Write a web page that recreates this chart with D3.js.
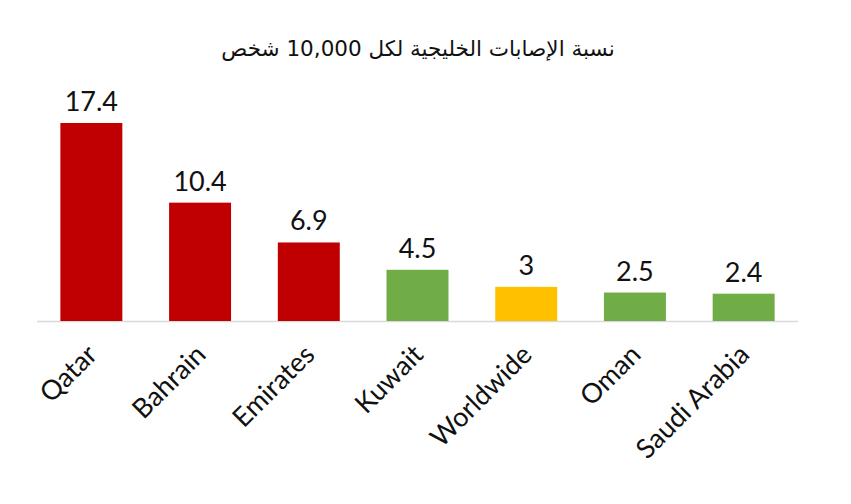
<!DOCTYPE html>
<html><head><meta charset="utf-8">
<script src="https://cdn.jsdelivr.net/npm/d3@7"></script>
<style>body{margin:0;background:#fff}svg{display:block}</style>
</head><body>
<svg id="c" width="851" height="504"></svg>
<script>
const categories = ["Qatar","Bahrain","Emirates","Kuwait","Worldwide","Oman","Saudi Arabia"];
const values = [17.4, 10.4, 6.9, 4.5, 3, 2.5, 2.4];
const valueLabels = ["17.4","10.4","6.9","4.5","3","2.5","2.4"];
const barColors = ["#C00000","#C00000","#C00000","#70AD47","#FFC000","#70AD47","#70AD47"];
const title = "نسبة الإصابات الخليجية لكل 10,000 شخص";

const svg = d3.select("#c");
const x = d3.scaleBand().domain(categories).range([37, 798]).paddingInner(0.43).paddingOuter(0.215);
const y = d3.scaleLinear().domain([0, 20]).range([321, 93.4]);

svg.append("text").attr("x", 418).attr("y", 56).attr("text-anchor", "middle")
  .attr("font-family", "DejaVu Sans").attr("font-size", 21.5).attr("fill", "#111")
  .attr("direction", "rtl").text(title);

svg.append("line").attr("x1", 37).attr("x2", 798).attr("y1", 321.5).attr("y2", 321.5)
  .attr("stroke", "#D9D9D9").attr("stroke-width", 1.5);

const data = categories.map((c, i) => ({c, v: values[i], l: valueLabels[i], col: barColors[i]}));

svg.selectAll("rect.bar").data(data).join("rect").attr("class", "bar")
  .attr("x", d => x(d.c)).attr("width", x.bandwidth())
  .attr("y", d => y(d.v)).attr("height", d => y(0) - y(d.v))
  .attr("fill", d => d.col);

svg.selectAll("text.val").data(data).join("text").attr("class", "val")
  .attr("x", d => x(d.c) + x.bandwidth() / 2).attr("y", d => y(d.v) - 12)
  .attr("text-anchor", "middle").attr("font-family", "Lato").attr("font-size", 27)
  .attr("fill", "#111").text(d => d.l);

svg.selectAll("text.cat").data(data).join("text").attr("class", "cat")
  .attr("transform", d => `translate(${x(d.c) + x.bandwidth() / 2 - 6},${343}) rotate(-45)`)
  .attr("text-anchor", "end").attr("dy", "0.7em")
  .attr("font-family", "Lato").attr("font-size", 27).attr("fill", "#111")
  .text(d => d.c);
</script>
</body></html>
